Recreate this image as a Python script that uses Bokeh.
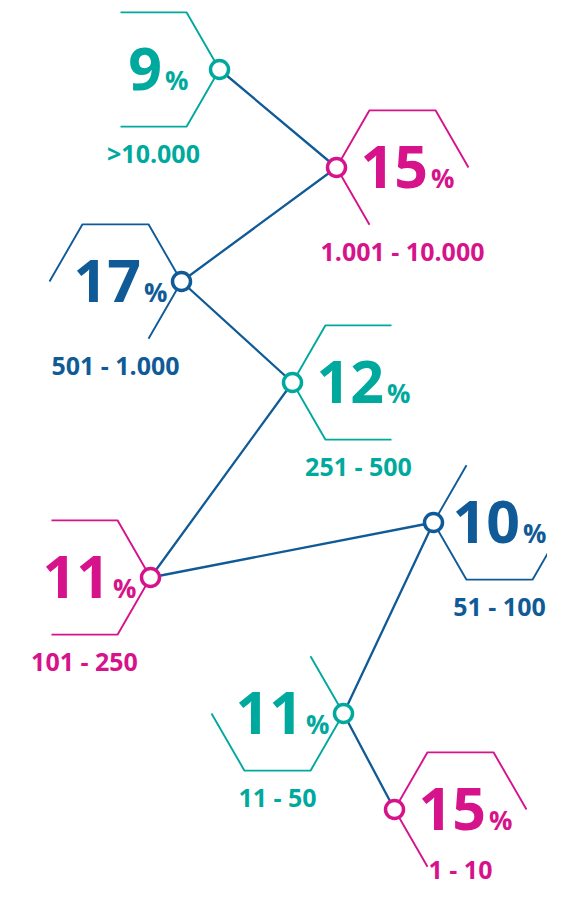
from bokeh.plotting import figure
from bokeh.models import Range1d, ColumnDataSource
from bokeh.core.properties import value
from bokeh.embed import file_html
from bokeh.resources import INLINE

# ---- data ----
categories = [">10.000", "1.001 - 10.000", "501 - 1.000", "251 - 500",
              "101 - 250", "51 - 100", "11 - 50", "1 - 10"]
shares = [9, 15, 17, 12, 11, 10, 11, 15]
node_x = [219, 336, 181, 292, 150, 433, 343, 394]
node_y = [69, 167, 281, 382, 577, 522, 713, 809]

# ---- style ----
TEAL = "#00A99D"
MAGENTA = "#D7138B"
BLUE = "#105B97"
palette = [TEAL, MAGENTA, BLUE]
colors = [palette[i % 3] for i in range(len(categories))]
sides = [-1 if i % 2 == 0 else 1 for i in range(len(categories))]  # hexagon left/right of node
hex_paths = [[2, 1, 0, 5, 4], [0, 1, 2, 3, 4], [3, 2, 1, 0, 5], [1, 2, 3, 4, 5],
             [2, 1, 0, 5, 4], [2, 3, 4, 5, 0], [1, 0, 5, 4, 3], [0, 1, 2, 3, 4]]
S = 66.0          # hexagon side
H = S * 0.866     # half height
FONT = value("Open Sans")
NUM_FS = 59
PCT_FS = 26
LAB_FS = 25
W, HT = 547, 888

def drop(fs):
    # observed downward shift of rendered glyphs relative to the given y
    return 0.33 * fs + 3

p = figure(width=W, height=HT, x_range=Range1d(0, W), y_range=Range1d(HT, 0),
           x_axis_type=None, y_axis_type=None, output_backend="svg",
           toolbar_location=None, min_border=0)
p.grid.visible = False
p.outline_line_color = None
p.background_fill_color = "white"
p.border_fill_color = "white"

# hexagon outlines
xs, ys, hcx = [], [], []
for i in range(len(categories)):
    cx, cy = node_x[i], node_y[i]
    c = cx + sides[i] * S
    hcx.append(c)
    verts = [(c + S, cy), (c + S / 2, cy - H), (c - S / 2, cy - H),
             (c - S, cy), (c - S / 2, cy + H), (c + S / 2, cy + H)]
    xs.append([verts[k][0] for k in hex_paths[i]])
    ys.append([verts[k][1] for k in hex_paths[i]])
p.multi_line(xs=xs, ys=ys, line_color=colors, line_width=1.9)

# connecting line
p.line(node_x, node_y, line_color=BLUE, line_width=2.3)

# nodes
p.scatter(node_x, node_y, size=18, fill_color="white", line_color=colors, line_width=3.5)

# percentage texts
def num_width(s):
    return len(s) * 0.572 * NUM_FS

PCT_W = 0.83 * PCT_FS
anchor = []
for i, s in enumerate(shares):
    w = num_width(str(s))
    group = w + 3 + PCT_W
    a = hcx[i] + 4 - group / 2 + w
    anchor.append(min(a, W - 3 - PCT_W - 3))

src = ColumnDataSource(dict(
    ax=anchor,
    px=[a + 3 for a in anchor],
    ny=[y + 22 - drop(NUM_FS) for y in node_y],
    py=[y + 22 - drop(PCT_FS) for y in node_y],
    ly=[min(y + 95, HT - 8) - drop(LAB_FS) for y in node_y],
    hx=hcx,
    num=[str(s) for s in shares],
    pct=["%"] * len(shares),
    lab=categories,
    col=colors,
))
p.text(x="ax", y="ny", text="num", source=src, text_align="right", text_baseline="alphabetic",
       text_font=FONT, text_font_style="bold", text_font_size=f"{NUM_FS}px", text_color="col")
p.text(x="px", y="py", text="pct", source=src, text_align="left", text_baseline="alphabetic",
       text_font=FONT, text_font_style="bold", text_font_size=f"{PCT_FS}px", text_color="col")
p.text(x="hx", y="ly", text="lab", source=src, text_align="center", text_baseline="alphabetic",
       text_font=FONT, text_font_style="bold", text_font_size=f"{LAB_FS}px", text_color="col")

open("out.html", "w").write(file_html(p, INLINE))
